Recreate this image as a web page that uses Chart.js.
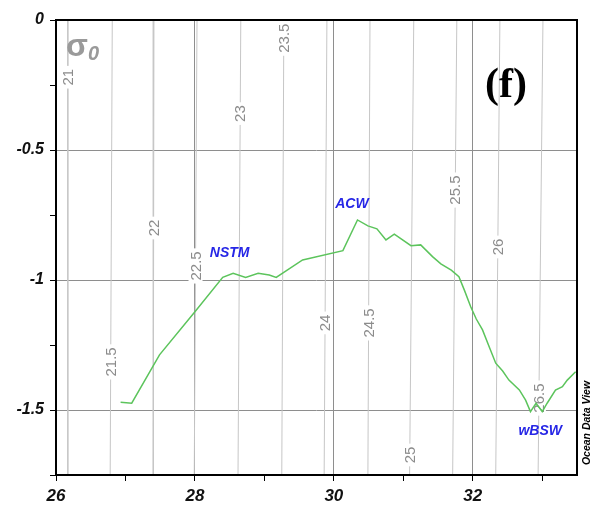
<!DOCTYPE html>
<html>
<head>
<meta charset="utf-8">
<script src="https://cdn.jsdelivr.net/npm/chart.js@4.4.1/dist/chart.umd.min.js"></script>
<style>
  body { margin: 0; background: #fff; }
  #wrap { width: 605px; height: 508px; }
</style>
</head>
<body>
<div id="wrap"><canvas id="tsChart" width="605" height="508"></canvas></div>
<script>
// T-S profile (salinity vs potential temperature)
const salinity = [26.93, 27.09, 27.49, 28.00, 28.40, 28.55, 28.73, 28.91, 29.07, 29.17,
  29.55, 30.13, 30.34, 30.49, 30.62, 30.75, 30.87, 31.11, 31.25, 31.42,
  31.54, 31.69, 31.80, 31.88, 31.97, 32.05, 32.14, 32.24, 32.33, 32.43,
  32.52, 32.67, 32.76, 32.83, 32.91, 33.00, 33.07, 33.19, 33.29, 33.36, 33.48];
const temperature = [-1.470, -1.474, -1.288, -1.122, -0.990, -0.974, -0.990, -0.974, -0.981, -0.990,
  -0.923, -0.887, -0.769, -0.792, -0.803, -0.846, -0.824, -0.868, -0.865, -0.910,
  -0.938, -0.962, -0.987, -1.040, -1.103, -1.150, -1.192, -1.260, -1.320, -1.350,
  -1.385, -1.423, -1.462, -1.506, -1.474, -1.506, -1.474, -1.423, -1.410, -1.385, -1.353];

// sigma-0 isopycnals: salinity where each one crosses T = 0 and T = -1.75
const sigmaLevels = ['21', '21.5', '22', '22.5', '23', '23.5', '24', '24.5', '25', '25.5', '26', '26.5'];
const sigmaSalTop = [26.17, 26.81, 27.41, 28.03, 28.66, 29.28, 29.90, 30.52, 31.15, 31.77, 32.39, 33.01];
const sigmaSalBottom = [26.17, 26.78, 27.40, 27.99, 28.62, 29.25, 29.86, 30.49, 31.09, 31.71, 32.33, 32.94];
const sigmaLabelTemp = [-0.22, -1.315, -0.80, -0.946, -0.36, -0.07, -1.165, -1.165, -1.673, -0.654, -0.873, -1.454];

// water mass names
const waterMasses = ['NSTM', 'ACW', 'wBSW'];
const waterMassSal = [28.50, 30.26, 32.97];
const waterMassTemp = [-0.896, -0.708, -1.581];

const xTicks = [26, 27, 28, 29, 30, 31, 32, 33];
const yTicks = [0, -0.25, -0.5, -0.75, -1, -1.25, -1.5, -1.75];

const SANS = '"Liberation Sans", Arial, sans-serif';
const T_BOTTOM = -1.75;

let datasets = [];
sigmaLevels.forEach(function (lvl, i) {
  datasets.push({
    sigmaIdx: i,
    data: [{ x: sigmaSalTop[i], y: 0 }, { x: sigmaSalBottom[i], y: T_BOTTOM }],
    showLine: true,
    borderColor: '#c6c6c6',
    borderWidth: 1,
    pointRadius: 0,
    order: 2
  });
});
datasets.push({
  data: salinity.map(function (s, i) { return { x: s, y: temperature[i] }; }),
  showLine: true,
  borderColor: 'rgb(92, 196, 92)',
  borderWidth: 1.5,
  pointRadius: 0,
  tension: 0,
  order: 0
});

// isopycnal labels, drawn on a white gap in their line
const contourLabels = {
  id: 'contourLabels',
  afterDatasetDraw(chart, args) {
    let ds = chart.data.datasets[args.index];
    if (ds.sigmaIdx === undefined) return;
    let i = ds.sigmaIdx;
    let t = sigmaLabelTemp[i];
    let f = t / T_BOTTOM;
    let s = sigmaSalTop[i] + (sigmaSalBottom[i] - sigmaSalTop[i]) * f;
    let px = chart.scales.x.getPixelForValue(s);
    let py = chart.scales.y.getPixelForValue(t);
    let c = chart.ctx;
    c.save();
    c.translate(px, py);
    c.rotate(-Math.PI / 2);
    c.font = '15px ' + SANS;
    let w = c.measureText(sigmaLevels[i]).width;
    c.fillStyle = '#fff';
    c.fillRect(-w / 2 - 3, -7, w + 6, 14);
    c.fillStyle = '#8c8c8c';
    c.textAlign = 'center';
    c.textBaseline = 'middle';
    c.fillText(sigmaLevels[i], 0, 1);
    c.restore();
  }
};

const decorations = {
  id: 'decorations',
  afterDraw(chart) {
    let c = chart.ctx;
    let a = chart.chartArea;
    let xs = chart.scales.x, ys = chart.scales.y;

    // frame
    c.save();
    c.strokeStyle = '#000';
    c.lineWidth = 2;
    c.strokeRect(a.left, a.top, a.right - a.left, a.bottom - a.top);

    // water mass names
    c.fillStyle = '#2626e6';
    c.font = 'italic bold 14px ' + SANS;
    c.textAlign = 'center';
    c.textBaseline = 'middle';
    waterMasses.forEach(function (n, i) {
      c.fillText(n, xs.getPixelForValue(waterMassSal[i]), ys.getPixelForValue(waterMassTemp[i]));
    });

    // sigma-0 symbol
    c.fillStyle = '#9a9a9a';
    c.textAlign = 'left';
    c.textBaseline = 'alphabetic';
    c.font = 'bold 32px ' + SANS;
    c.fillText('σ', 66, 56);
    c.font = 'italic bold 20px ' + SANS;
    c.fillText('0', 88, 60);

    // panel letter
    c.fillStyle = '#000';
    c.font = 'bold 42px "Liberation Serif", "Times New Roman", serif';
    c.textAlign = 'center';
    c.textBaseline = 'middle';
    c.fillText('(f)', 506, 86);

    // ODV credit
    c.translate(587, 423);
    c.rotate(-Math.PI / 2);
    c.font = 'italic bold 10.5px ' + SANS;
    c.fillText('Ocean Data View', 0, 0);
    c.restore();
  }
};

new Chart(document.getElementById('tsChart'), {
  type: 'scatter',
  data: { datasets: datasets },
  options: {
    responsive: false,
    animation: false,
    layout: { padding: { top: 20, right: 28, left: 0, bottom: 0 } },
    plugins: { legend: { display: false }, tooltip: { enabled: false } },
    scales: {
      x: {
        type: 'linear',
        min: 26,
        max: 33.5,
        afterBuildTicks: function (s) { s.ticks = xTicks.map(function (v) { return { value: v }; }); },
        afterFit: function (s) { s.height = 33; },
        border: { display: false },
        grid: {
          color: function (ctx) {
            let v = ctx.tick ? ctx.tick.value : null;
            return (v !== null && v % 2 === 0 && v !== 26) ? '#8e8e8e' : 'rgba(0,0,0,0)';
          },
          tickColor: '#000',
          tickLength: 6,
          lineWidth: 1
        },
        ticks: {
          autoSkip: false,
          maxRotation: 0,
          padding: 5,
          color: '#111',
          font: { family: SANS, size: 17, weight: 'bold', style: 'italic' },
          callback: function (v) { return v % 2 === 0 ? String(v) : ''; }
        }
      },
      y: {
        type: 'linear',
        min: T_BOTTOM,
        max: 0,
        afterBuildTicks: function (s) { s.ticks = yTicks.map(function (v) { return { value: v }; }); },
        afterFit: function (s) { s.width = 56; },
        border: { display: false },
        grid: {
          color: function (ctx) {
            let v = ctx.tick ? ctx.tick.value : null;
            return (v !== null && v !== 0 && Math.abs(v * 2 - Math.round(v * 2)) < 1e-9) ? '#8e8e8e' : 'rgba(0,0,0,0)';
          },
          tickColor: '#000',
          tickLength: 6,
          lineWidth: 1
        },
        ticks: {
          padding: 6,
          color: '#111',
          font: { family: SANS, size: 16, weight: 'bold', style: 'italic' },
          callback: function (v) {
            return Math.abs(v * 2 - Math.round(v * 2)) < 1e-9 ? String(v) : '';
          }
        }
      }
    }
  },
  plugins: [contourLabels, decorations]
});
</script>
</body>
</html>
